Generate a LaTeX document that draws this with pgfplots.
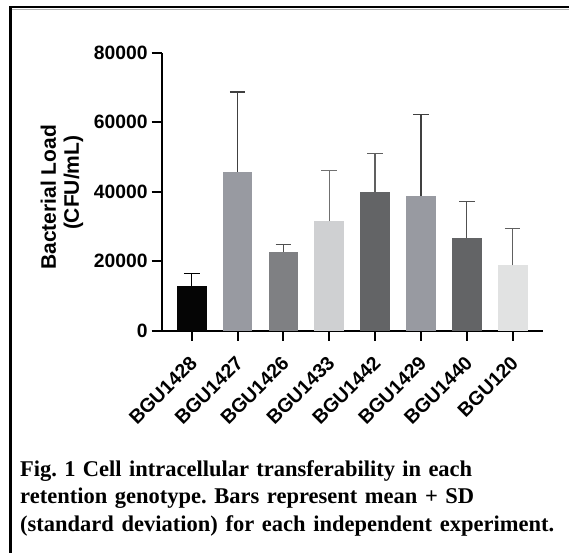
\documentclass[border=0pt]{standalone}
\usepackage{fontspec}
\setmainfont{Liberation Serif}
\newfontfamily\arial{Liberation Sans}
\usepackage{pgfplots}
\pgfplotsset{compat=1.18}
\definecolor{c1}{HTML}{050505}
\definecolor{c2}{HTML}{989AA1}
\definecolor{c3}{HTML}{7F8083}
\definecolor{c4}{HTML}{CFD0D2}
\definecolor{c5}{HTML}{636466}
\definecolor{c6}{HTML}{989AA1}
\definecolor{c7}{HTML}{636466}
\definecolor{c8}{HTML}{E1E2E2}
\definecolor{e1}{HTML}{000000}
\definecolor{e2}{HTML}{404040}
\definecolor{e3}{HTML}{505050}
\definecolor{e4}{HTML}{707070}
\definecolor{e5}{HTML}{606060}
\definecolor{e6}{HTML}{404040}
\definecolor{e7}{HTML}{505050}
\definecolor{e8}{HTML}{606060}
\newcommand{\onebar}[4]{%
  \addplot[fill=#1, draw=none,
    error bars/.cd, y dir=plus, y explicit,
    error bar style={line width=1.3bp, draw=#2},
    error mark options={rotate=90, line width=1.3bp, mark size=7.8bp, draw=#2}]
    coordinates {(#3) +- (0,#4)};}
\begin{document}
\frenchspacing
\begin{tikzpicture}
\useasboundingbox (0bp,0bp) rectangle (569bp,553bp);
\fill[white] (0bp,0bp) rectangle (569bp,553bp);
\draw[line width=2.3bp] (10.5bp,0bp) -- (10.5bp,545.8bp) -- (569bp,545.8bp);
\draw[line width=0.8bp, black!30] (11.7bp,543.9bp) -- (569bp,543.9bp);
\begin{axis}[
  at={(161.7bp,222.3bp)}, anchor=south west,
  scale only axis, width=381bp, height=278bp,
  xmin=-0.655, xmax=7.655, ymin=0, ymax=80000,
  axis x line*=bottom, axis y line*=left,
  axis line style={line width=2.3bp},
  ybar, bar width=29.7bp, bar shift=0pt,
  xtick={0,1,2,3,4,5,6,7},
  xticklabels={BGU1428,BGU1427,BGU1426,BGU1433,BGU1442,BGU1429,BGU1440,BGU120},
  ytick={0,20000,40000,60000,80000},
  yticklabels={0,20000,40000,60000,80000},
  scaled y ticks=false,
  tick align=outside, major tick length=10bp,
  tick style={line width=2bp, black},
  xticklabel style={font=\arial\bfseries\fontsize{19.5bp}{21bp}\selectfont, yshift=-19bp, xshift=2bp, rotate=45, anchor=east, inner sep=0pt},
  yticklabel style={font=\arial\bfseries\fontsize{19.3bp}{21bp}\selectfont, anchor=east, inner sep=0pt, xshift=-4bp},
  ylabel={Bacterial Load\\\hspace*{29bp}(CFU/mL)},
  ylabel style={font=\arial\bfseries\fontsize{21bp}{23bp}\selectfont, align=center, at={(axis description cs:-0.2617,0.48)}, anchor=center},
]
\onebar{c1}{e1}{0,12950}{3450}
\onebar{c2}{e2}{1,45660}{23020}
\onebar{c3}{e3}{2,22640}{2110}
\onebar{c4}{e4}{3,31560}{14580}
\onebar{c5}{e5}{4,39900}{11130}
\onebar{c6}{e6}{5,38660}{23500}
\onebar{c7}{e7}{6,26760}{10460}
\onebar{c8}{e8}{7,18800}{10650}
\end{axis}
\begin{scope}[every node/.style={anchor=base west, inner sep=0pt, font=\bfseries\fontsize{22.5bp}{27bp}\selectfont}]
\node at (20bp,76bp) {\makebox[452bp][s]{Fig. 1 Cell intracellular transferability in each}};
\node at (20bp,49bp) {\makebox[454bp][s]{retention genotype. Bars represent mean + SD}};
\node at (20bp,22bp) {\makebox[534bp][s]{(standard deviation) for each independent experiment.}};
\end{scope}
\end{tikzpicture}
\end{document}
